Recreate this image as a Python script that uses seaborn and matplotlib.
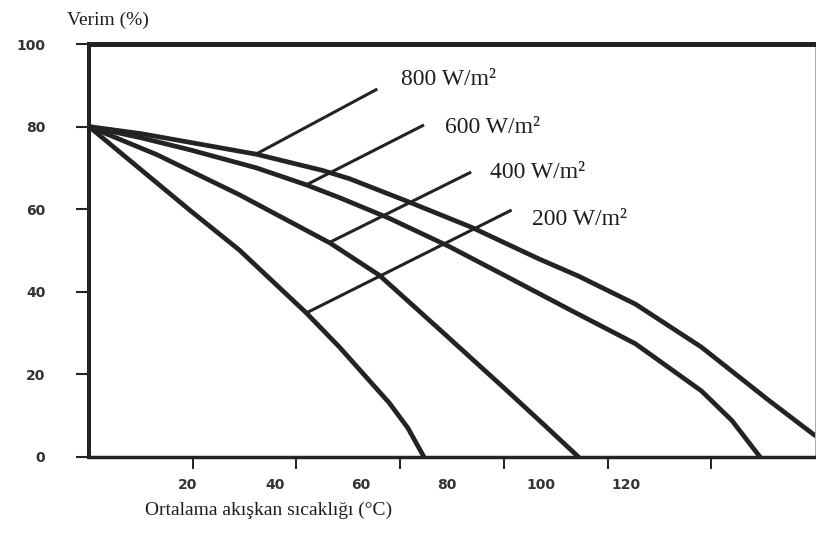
import matplotlib
matplotlib.use("Agg")
import matplotlib.pyplot as plt
import numpy as np
import pandas as pd
import seaborn as sns

# ---------------- data ----------------
series_names = ["800 W/m²", "600 W/m²", "400 W/m²", "200 W/m²"]

temp_800 = [0, 10, 19.4, 32.3, 45.0, 50.2, 61.2, 73.8, 86.7, 94.4, 105.4, 118.1, 131.0, 140.0]
eff_800 = [80, 78.3, 76.2, 73.3, 69.4, 67.4, 62.0, 55.6, 48.0, 43.8, 37.0, 26.6, 13.8, 5.2]

temp_600 = [0, 10, 19.4, 32.3, 41.9, 48.3, 57.9, 69.4, 80.4, 92.5, 105.4, 118.1, 124.0, 129.4]
eff_600 = [80, 77.3, 74.4, 70.0, 65.9, 62.8, 57.8, 51.0, 43.8, 35.8, 27.4, 16.0, 8.8, 0]

temp_400 = [0, 13.1, 29.0, 46.5, 56.0, 67.5, 80.4, 88.0, 94.4]
eff_400 = [80, 73.2, 63.5, 51.8, 44.0, 31.0, 16.3, 7.5, 0]

temp_200 = [0, 19.4, 29.0, 41.9, 48.3, 57.9, 61.5, 64.6]
eff_200 = [80, 59.8, 50.1, 34.9, 26.6, 13.1, 7.0, 0]

# leader lines (curve point -> label end), data units
leader_x = [[32.3, 55.6], [41.9, 64.6], [46.3, 73.7], [42.1, 81.5]]
leader_y = [[73.4, 89.1], [65.9, 80.4], [51.9, 69.0], [35.0, 59.8]]

y_ticks = [0, 20, 40, 60, 80, 100]
x_ticks = [20, 40, 60, 80, 100, 120]
x_tick_labels = ["20", "40", "60", "80", "100", "120"]

# ---------------- layout ----------------
label_anchor = [(60.2, 91.3), (68.7, 79.9), (77.3, 68.8), (85.4, 57.4)]
x_label_spots = [19.0, 35.8, 52.5, 69.0, 87.1, 103.5]  # where the scan prints the labels

df = pd.concat([
    pd.DataFrame({"T": t, "eta": e, "series": name})
    for t, e, name in zip([temp_800, temp_600, temp_400, temp_200],
                          [eff_800, eff_600, eff_400, eff_200], series_names)
], ignore_index=True)

sns.set_theme(style="white")
plt.rcParams["font.family"] = ["DejaVu Sans"]

ink = "#232323"
fig = plt.figure(figsize=(8.16, 5.35), dpi=100)
ax = fig.add_axes([89 / 816, 78 / 535, 726 / 816, 413 / 535])

sns.lineplot(data=df, x="T", y="eta", hue="series", palette={s: ink for s in series_names},
             sort=False, estimator=None, legend=False, lw=3.4, ax=ax)
for line in ax.get_lines():
    line.set_solid_joinstyle("round")

for lx, ly in zip(leader_x, leader_y):
    ax.plot(lx, ly, color=ink, lw=2.2, solid_capstyle="butt")

for name, (tx, ty) in zip(series_names, label_anchor):
    ax.text(tx, ty, name, fontfamily="Liberation Serif", fontsize=17,
            ha="left", va="center", color="#1e1e1e")

ax.set_xlim(0, 140)
ax.set_ylim(0, 100)

# spines
for side, lw, col in [("left", 2.9, ink), ("bottom", 2.5, ink), ("top", 3.6, ink), ("right", 0.7, "#aaaaaa")]:
    ax.spines[side].set_visible(True)
    ax.spines[side].set_linewidth(lw)
    ax.spines[side].set_color(col)

# y ticks
ax.set_yticks(y_ticks)
ax.set_yticklabels([str(v) for v in y_ticks], fontweight="bold", fontsize=10, color="#333333")
ax.tick_params(axis="y", which="major", direction="out", length=9.4, width=1.5,
               color=ink, pad=22, left=True)

# x ticks: marks at the values, labels where the scan puts them
ax.set_xticks(x_ticks)
ax.set_xticklabels([])
ax.tick_params(axis="x", which="major", direction="out", length=8.6, width=1.4,
               color=ink, bottom=True)
ax.set_xticks(x_label_spots, minor=True)
ax.set_xticklabels(x_tick_labels, minor=True, fontweight="bold", fontsize=10, color="#333333")
ax.tick_params(axis="x", which="minor", length=0, pad=15, bottom=True)

ax.set_xlabel("Ortalama akışkan sıcaklığı (°C)", fontfamily="Liberation Serif",
              fontsize=14, color="#1e1e1e", va="center")
ax.xaxis.set_label_coords(0.248, -0.128)
ax.set_ylabel("Verim (%)", fontfamily="Liberation Serif", fontsize=14,
              rotation=0, color="#1e1e1e", va="center")
ax.yaxis.set_label_coords(0.026, 1.058)

fig.savefig("out.png", dpi=100)
